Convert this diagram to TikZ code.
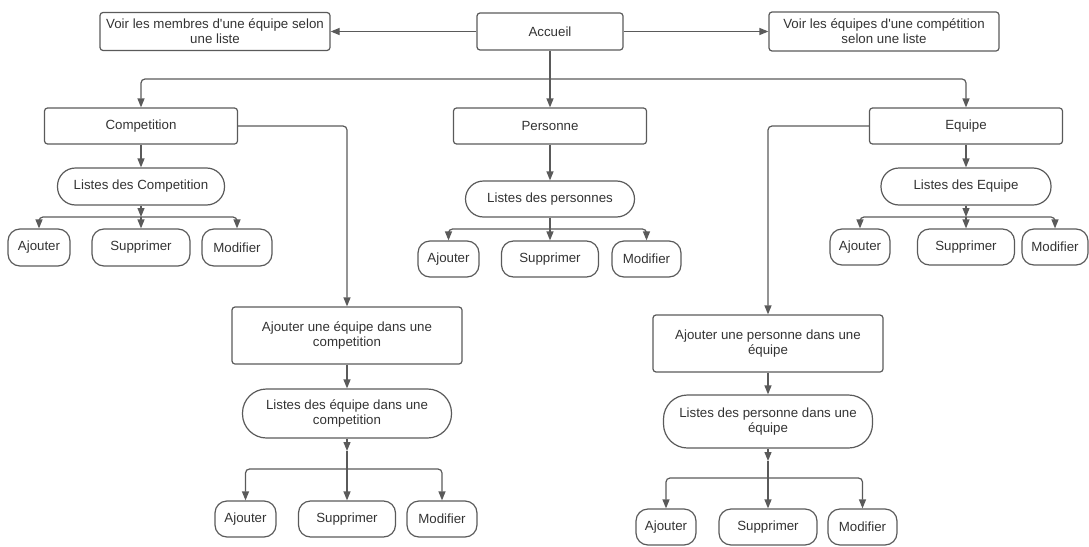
\documentclass[tikz,border=0pt]{standalone}
\usepackage{fontspec}
\setmainfont{Liberation Sans}
\usepackage{tikz}
\usetikzlibrary{arrows.meta,positioning,calc}
\usepackage{xcolor}
\definecolor{lucidline}{HTML}{5A5A5A}
\definecolor{lucidtext}{HTML}{333333}
\tikzset{block/.style={draw=lucidline, line width=1.2pt, rounded corners=3pt, inner sep=0pt, align=center, text=lucidtext, font=\fontsize{13.3}{15}\selectfont},
	line/.style={draw=lucidline, line width=1.2pt, rounded corners=4pt, -{Triangle[length=9pt,width=7pt]}},
	plain/.style={draw=lucidline, line width=1.2pt, rounded corners=4pt}
}

\begin{document}
\begin{tikzpicture}[x=1pt,y=-1pt]
\tikzstyle{pill} = [block, rounded corners=12pt, minimum height=36pt]
\tikzstyle{listing} = [block, rounded corners=18pt, minimum height=37pt]
\tikzstyle{biglisting} = [block, rounded corners=24pt, minimum width=209pt]
\tikzstyle{bigblock} = [block, minimum width=230pt, minimum height=57pt]

\useasboundingbox (0,0) rectangle (1089,546);

% top row
\node [block, minimum width=146pt, minimum height=37pt] (accueil) at (550,31.5) {Accueil};
\node [block, minimum width=230pt, minimum height=38pt] (voirM) at (215,31.5) {Voir les membres d\textquotesingle une équipe selon\\une liste};
\node [block, minimum width=230pt, minimum height=39pt] (voirE) at (884,31.5) {Voir les équipes d\textquotesingle une compétition\\selon une liste};

% second row
\node [block, minimum width=193pt, minimum height=36pt] (comp) at (141,126) {Competition};
\node [block, minimum width=193pt, minimum height=36pt] (pers) at (550,126) {Personne};
\node [block, minimum width=193pt, minimum height=36pt] (equ) at (966,126) {Equipe};

% lists
\node [listing, minimum width=167pt] (listC) at (141,186.5) {Listes des Competition};
\node [listing, minimum width=169pt, minimum height=36pt] (listP) at (550,199) {Listes des personnes};
\node [listing, minimum width=170pt] (listE) at (966,186.5) {Listes des Equipe};

\node [pill, minimum width=62pt, minimum height=37pt] (ajC) at (39,247.5) {Ajouter};
\node [pill, minimum width=98pt, minimum height=37pt] (supC) at (141,247.5) {Supprimer};
\node [pill, minimum width=70pt, minimum height=37pt] (modC) at (237,247.5) {Modifier};

\node [pill, minimum width=61pt] (ajP) at (448.5,259) {Ajouter};
\node [pill, minimum width=97pt] (supP) at (550,259) {Supprimer};
\node [pill, minimum width=69pt] (modP) at (646.5,259) {Modifier};

\node [pill, minimum width=60pt] (ajE) at (860,247) {Ajouter};
\node [pill, minimum width=97pt] (supE) at (966,247) {Supprimer};
\node [pill, minimum width=66pt] (modE) at (1055,247) {Modifier};

% lower branches
\node [bigblock] (addEC) at (347,335.5) {Ajouter une équipe dans une\\competition};
\node [biglisting, minimum height=49pt] (listEC) at (347,413.5) {Listes des équipe dans une\\competition};
\node [pill, minimum width=61pt] (ajEC) at (245.5,519) {Ajouter};
\node [pill, minimum width=97pt] (supEC) at (347,519) {Supprimer};
\node [pill, minimum width=70pt] (modEC) at (442,519) {Modifier};

\node [bigblock] (addPE) at (768,343.5) {Ajouter une personne dans une\\équipe};
\node [biglisting, minimum height=53pt] (listPE) at (768,421.5) {Listes des personne dans une\\équipe};
\node [pill, minimum width=60pt] (ajPE) at (666,527) {Ajouter};
\node [pill, minimum width=98pt] (supPE) at (768,527) {Supprimer};
\node [pill, minimum width=69pt] (modPE) at (862.5,527) {Modifier};

% junctions
\coordinate (split) at (550,79);
\coordinate (jC) at (141,217);
\coordinate (jP) at (550,229);
\coordinate (jE) at (966,217);
\coordinate (tEC) at (347,451);
\coordinate (jEC) at (347,469);
\coordinate (tPE) at (768,461);
\coordinate (jPE) at (768,478);

%Lines
\draw[line] (accueil.west) -- (voirM.east);
\draw[line] (accueil.east) -- (voirE.west);
\draw[plain] (accueil.south) -- (split);
\draw[line] (split) -| (comp.north);
\draw[line] (split) -- (pers.north);
\draw[line] (split) -| (equ.north);

\draw[line] (comp.south) -- (listC.north);
\draw[line] (pers.south) -- (listP.north);
\draw[line] (equ.south) -- (listE.north);

\draw[line] (listC.south) -- (jC);
\draw[line] (jC) -| (ajC.north);
\draw[line] (jC) -- (supC.north);
\draw[line] (jC) -| (modC.north);

\draw[plain] (listP.south) -- (jP);
\draw[line] (jP) -| (ajP.north);
\draw[line] (jP) -- (supP.north);
\draw[line] (jP) -| (modP.north);

\draw[line] (listE.south) -- (jE);
\draw[line] (jE) -| (ajE.north);
\draw[line] (jE) -- (supE.north);
\draw[line] (jE) -| (modE.north);

\draw[line] (comp.east) -| (addEC.north);
\draw[line] (addEC.south) -- (listEC.north);
\draw[line] (listEC.south) -- (tEC);
\draw[plain] (tEC) -- (jEC);
\draw[line] (jEC) -| (ajEC.north);
\draw[line] (jEC) -- (supEC.north);
\draw[line] (jEC) -| (modEC.north);

\draw[line] (equ.west) -| (addPE.north);
\draw[line] (addPE.south) -- (listPE.north);
\draw[line] (listPE.south) -- (tPE);
\draw[plain] (tPE) -- (jPE);
\draw[line] (jPE) -| (ajPE.north);
\draw[line] (jPE) -- (supPE.north);
\draw[line] (jPE) -| (modPE.north);
\end{tikzpicture}
\end{document}
